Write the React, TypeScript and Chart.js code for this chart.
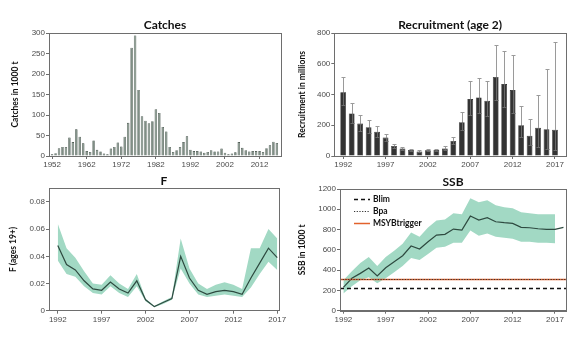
import React, { useEffect, useRef } from 'react';
import { Chart, registerables } from 'chart.js';

Chart.register(...registerables);

// ---------------- DATA ----------------
const CATCH_YEARS = [
  1952, 1953, 1954, 1955, 1956, 1957, 1958, 1959, 1960, 1961,
  1962, 1963, 1964, 1965, 1966, 1967, 1968, 1969, 1970, 1971,
  1972, 1973, 1974, 1975, 1976, 1977, 1978, 1979, 1980, 1981,
  1982, 1983, 1984, 1985, 1986, 1987, 1988, 1989, 1990, 1991,
  1992, 1993, 1994, 1995, 1996, 1997, 1998, 1999, 2000, 2001,
  2002, 2003, 2004, 2005, 2006, 2007, 2008, 2009, 2010, 2011,
  2012, 2013, 2014, 2015, 2016, 2017,
];
const CATCH_VALUES = [
  4, 7, 19, 22, 22, 45, 34, 65, 47, 31,
  12, 10, 38, 15, 11, 6, 4, 18, 22, 33,
  23, 47, 81, 264, 294, 161, 97, 86, 80, 85,
  114, 105, 71, 60, 22, 10, 14, 22, 34, 48,
  15, 12, 12, 11, 8, 10, 14, 11, 11, 18,
  8, 4, 6, 9, 34, 20, 14, 11, 12, 12,
  12, 10, 19, 26, 35, 32,
];
const CATCH_TICKS = [1952, 1962, 1972, 1982, 1992, 2002, 2012];

const REC_YEARS = [
  1992, 1993, 1994, 1995, 1996, 1997, 1998, 1999, 2000, 2001,
  2002, 2003, 2004, 2005, 2006, 2007, 2008, 2009, 2010, 2011,
  2012, 2013, 2014, 2015, 2016, 2017,
];
const REC_VALUES = [
  414, 277, 211, 187, 157, 120, 65, 48, 39, 30,
  37, 39, 48, 98, 220, 370, 381, 359, 514, 468,
  429, 200, 131, 183, 174, 170,
];
const REC_HIGH = [
  516, 342, 264, 237, 192, 146, 81, 59, 48, 37,
  44, 46, 63, 122, 283, 486, 505, 486, 723, 680,
  660, 325, 240, 397, 566, 741,
];
const REC_LOW = [
  330, 215, 165, 150, 125, 95, 52, 40, 32, 24,
  30, 32, 37, 78, 170, 266, 277, 261, 364, 316,
  281, 124, 70, 59, 48, 37,
];

const YEAR_TICKS = [1992, 1997, 2002, 2007, 2012, 2017];

const F_YEARS = REC_YEARS;
const F_VALUES = [
  0.048, 0.034, 0.030, 0.022, 0.016, 0.015, 0.021, 0.016, 0.013, 0.022,
  0.008, 0.003, 0.006, 0.009, 0.040, 0.024, 0.015, 0.012, 0.014, 0.015,
  0.014, 0.012, 0.024, 0.035, 0.046, 0.039,
];
const F_LOW = [
  0.037, 0.027, 0.025, 0.018, 0.013, 0.012, 0.018, 0.013, 0.010, 0.018,
  0.007, 0.0025, 0.005, 0.008, 0.031, 0.020, 0.012, 0.010, 0.011, 0.012,
  0.011, 0.010, 0.017, 0.027, 0.036, 0.030,
];
const F_HIGH = [
  0.064, 0.046, 0.039, 0.029, 0.020, 0.019, 0.026, 0.020, 0.016, 0.027,
  0.009, 0.0035, 0.007, 0.010, 0.053, 0.031, 0.020, 0.016, 0.019, 0.021,
  0.019, 0.016, 0.046, 0.046, 0.060, 0.053,
];

const SSB_YEARS = [
  1992, 1993, 1994, 1995, 1996, 1997, 1998, 1999, 2000, 2001,
  2002, 2003, 2004, 2005, 2006, 2007, 2008, 2009, 2010, 2011,
  2012, 2013, 2014, 2015, 2016, 2017, 2018,
];
const SSB_VALUES = [
  230, 319, 368, 420, 342, 424, 483, 542, 638, 608,
  680, 746, 753, 805, 795, 933, 894, 917, 877, 868,
  861, 822, 818, 808, 802, 802, 822,
];
const SSB_LOW = [
  170, 240, 300, 330, 270, 320, 380, 440, 520, 500,
  560, 620, 630, 670, 670, 790, 740, 760, 730, 720,
  710, 680, 680, 670, 670, 665, null,
];
const SSB_HIGH = [
  300, 390, 470, 530, 440, 530, 590, 660, 770, 730,
  820, 890, 900, 960, 950, 1110, 1070, 1090, 1040, 1020,
  1010, 970, 960, 950, 950, 950, null,
];
const BLIM = 225;
const BPA = 313;
const MSY_BTRIGGER = 313;

// ---------------- STYLE ----------------
const TICK_FONT = "'Liberation Sans', Arial, sans-serif";
const LABEL_FONT = "Lato, 'Open Sans', sans-serif";
const AXIS_COLOR = '#6e6e6e';
const BAND_COLOR = '#a2d9c4';
const LINE_COLOR = '#2e4a40';

const framePlugin = {
  id: 'frame',
  afterDraw(chart: any) {
    const { ctx, chartArea: a } = chart;
    ctx.save();
    ctx.strokeStyle = AXIS_COLOR;
    ctx.lineWidth = 1;
    ctx.strokeRect(Math.round(a.left) + 0.5, Math.round(a.top) + 0.5, Math.round(a.right - a.left), Math.round(a.bottom - a.top));
    ctx.restore();
  },
};

const panelTitlePlugin = {
  id: 'panelTitle',
  afterDraw(chart: any, _args: any, opts: any) {
    if (!opts || !opts.text) return;
    const { ctx, chartArea: a } = chart;
    ctx.save();
    ctx.font = `bold ${opts.size || 12}px ${LABEL_FONT}`;
    ctx.fillStyle = '#111';
    ctx.textAlign = 'center';
    ctx.textBaseline = 'alphabetic';
    ctx.fillText(opts.text, (a.left + a.right) / 2 + (opts.dx || 0), a.top - (opts.gap || 4));
    ctx.restore();
  },
};

const errorBarPlugin = {
  id: 'errorBars',
  afterDatasetsDraw(chart: any, _args: any, opts: any) {
    if (!opts || !opts.high) return;
    const { ctx, scales } = chart;
    ctx.save();
    ctx.lineWidth = 1;
    opts.years.forEach((yr: number, i: number) => {
      const x = Math.round(scales.x.getPixelForValue(yr)) + 0.5;
      const yh = Math.round(scales.y.getPixelForValue(opts.high[i])) + 0.5;
      const yl = Math.round(scales.y.getPixelForValue(opts.low[i])) + 0.5;
      const yv = scales.y.getPixelForValue(opts.values[i]);
      ctx.strokeStyle = '#9a9a9a';
      ctx.beginPath();
      ctx.moveTo(x, yh);
      ctx.lineTo(x, yv);
      ctx.moveTo(x - 2, yh);
      ctx.lineTo(x + 2, yh);
      ctx.stroke();
      ctx.strokeStyle = '#6a6a6a';
      ctx.beginPath();
      ctx.moveTo(x, yv);
      ctx.lineTo(x, yl);
      ctx.moveTo(x - 2, yl);
      ctx.lineTo(x + 2, yl);
      ctx.stroke();
    });
    ctx.restore();
  },
};

const REF_LINES = [
  { label: 'Blim', value: BLIM, color: '#111', dash: [4, 3], width: 1.5 },
  { label: 'MSYBtrigger', value: MSY_BTRIGGER, color: '#e2622c', dash: [], width: 1.5 },
  { label: 'Bpa', value: BPA, color: '#333', dash: [1.2, 1.5], width: 1.2 },
];
const LEGEND_ORDER = ['Blim', 'Bpa', 'MSYBtrigger'];

const refLinePlugin = {
  id: 'refLines',
  afterDatasetsDraw(chart: any, _args: any, opts: any) {
    if (!opts || !opts.enabled) return;
    const { ctx, scales, chartArea: a } = chart;
    ctx.save();
    REF_LINES.forEach((r) => {
      const y = Math.round(scales.y.getPixelForValue(r.value)) + 0.5;
      ctx.strokeStyle = r.color;
      ctx.lineWidth = r.width;
      ctx.setLineDash(r.dash);
      ctx.beginPath();
      ctx.moveTo(a.left, y);
      ctx.lineTo(a.right, y);
      ctx.stroke();
    });
    // legend
    ctx.font = `bold 8.5px ${LABEL_FONT}`;
    ctx.textBaseline = 'middle';
    ctx.textAlign = 'left';
    LEGEND_ORDER.forEach((name, i) => {
      const r = REF_LINES.find((q) => q.label === name)!;
      const y = Math.round(a.top + 9.5 + i * 12.3) + 0.5;
      ctx.strokeStyle = r.color;
      ctx.lineWidth = r.width;
      ctx.setLineDash(r.dash);
      ctx.beginPath();
      ctx.moveTo(a.left + 14, y);
      ctx.lineTo(a.left + 30, y);
      ctx.stroke();
      ctx.setLineDash([]);
      ctx.fillStyle = '#111';
      ctx.fillText(name, a.left + 33, y);
    });
    ctx.restore();
  },
};

function axisBase() {
  return {
    grid: { display: true, drawOnChartArea: false, drawTicks: true, tickLength: 3, color: AXIS_COLOR, lineWidth: 1, offset: false },
    border: { display: true, color: AXIS_COLOR, width: 1 },
  };
}

function xAxis(min: number, max: number, ticks: number[], height: number) {
  return {
    type: 'linear',
    min,
    max,
    offset: false,
    ...axisBase(),
    afterBuildTicks: (s: any) => { s.ticks = ticks.map((v) => ({ value: v })); },
    afterFit: (s: any) => { s.height = height; },
    ticks: {
      color: '#4a4a4a',
      font: { family: TICK_FONT, size: 8 },
      padding: 1,
      maxRotation: 0,
      autoSkip: false,
      callback: (v: any) => String(v),
    },
  };
}

function yAxis(min: number, max: number, step: number, width: number, title: string, titlePad: number, dropMax = false) {
  return {
    type: 'linear',
    min,
    max,
    ...axisBase(),
    afterFit: (s: any) => { s.width = width; },
    afterBuildTicks: (s: any) => {
      if (dropMax) s.ticks = s.ticks.filter((t: any) => Math.abs(t.value - max) > 1e-9);
    },
    ticks: {
      stepSize: step,
      color: '#4a4a4a',
      font: { family: TICK_FONT, size: 8 },
      padding: 1,
      autoSkip: false,
      callback: (v: any) => String(Math.round(v * 1000) / 1000),
    },
    title: {
      display: true,
      text: title,
      color: '#111',
      font: { family: LABEL_FONT, size: 8.5, weight: 'bold' },
      padding: { top: titlePad, bottom: 0 },
    },
  };
}

function basePlugins(title: string, gap: number) {
  return {
    legend: { display: false },
    tooltip: { enabled: false },
    title: { display: false },
    panelTitle: { text: title, size: 12, gap },
  };
}

function buildCatches(): any {
  return {
    type: 'bar',
    data: {
      datasets: [{
        data: CATCH_YEARS.map((x, i) => ({ x, y: CATCH_VALUES[i] })),
        backgroundColor: '#7f8f85',
        borderColor: '#2f3d35',
        borderWidth: 0.6,
        barPercentage: 0.72,
        categoryPercentage: 1,
      }],
    },
    options: {
      animation: false,
      responsive: false,
      layout: { padding: { left: 0, top: 33, right: 9, bottom: 0 } },
      scales: {
        x: xAxis(1951.1, 2018.2, CATCH_TICKS, 14),
        y: yAxis(0, 300, 50, 49, 'Catches in 1000 t', 10.5),
      },
      plugins: basePlugins('Catches', 4.5),
    },
    plugins: [framePlugin, panelTitlePlugin],
  };
}

function buildRecruitment(): any {
  return {
    type: 'bar',
    data: {
      datasets: [{
        data: REC_YEARS.map((x, i) => ({ x, y: REC_VALUES[i] })),
        backgroundColor: '#333333',
        borderColor: '#151515',
        borderWidth: 0.6,
        barPercentage: 0.68,
        categoryPercentage: 1,
      }],
    },
    options: {
      animation: false,
      responsive: false,
      layout: { padding: { left: 0, top: 33, right: 15, bottom: 0 } },
      scales: {
        x: xAxis(1990.95, 2018.3, YEAR_TICKS, 14),
        y: yAxis(0, 800, 200, 44.3, 'Recruitment in millions', 6.8),
      },
      plugins: {
        ...basePlugins('Recruitment (age 2)', 4.5),
        errorBars: { years: REC_YEARS, values: REC_VALUES, high: REC_HIGH, low: REC_LOW },
      },
    },
    plugins: [framePlugin, panelTitlePlugin, errorBarPlugin],
  };
}

function bandDatasets(years: number[], low: (number | null)[], high: (number | null)[], values: number[], valueYears: number[]) {
  return [
    {
      data: years.map((x, i) => ({ x, y: low[i] })).filter((p) => p.y !== null),
      borderWidth: 0,
      pointRadius: 0,
      fill: false,
      order: 2,
    },
    {
      data: years.map((x, i) => ({ x, y: high[i] })).filter((p) => p.y !== null),
      borderWidth: 0,
      pointRadius: 0,
      fill: '-1',
      backgroundColor: BAND_COLOR,
      order: 1,
    },
    {
      data: valueYears.map((x, i) => ({ x, y: values[i] })),
      borderColor: LINE_COLOR,
      borderWidth: 1.2,
      pointRadius: 0,
      fill: false,
      tension: 0,
      order: 0,
    },
  ];
}

function buildF(): any {
  return {
    type: 'line',
    data: { datasets: bandDatasets(F_YEARS, F_LOW, F_HIGH, F_VALUES, F_YEARS) },
    options: {
      animation: false,
      responsive: false,
      layout: { padding: { left: 0, top: 18.3, right: 11, bottom: 0 } },
      scales: {
        x: xAxis(1991, 2017.2, YEAR_TICKS, 28.3),
        y: yAxis(0, 0.09, 0.02, 49, 'F (ages 19+)', 8.2, true),
      },
      plugins: basePlugins('F', 3.5),
    },
    plugins: [framePlugin, panelTitlePlugin],
  };
}

function buildSSB(): any {
  return {
    type: 'line',
    data: { datasets: bandDatasets(SSB_YEARS, SSB_LOW, SSB_HIGH, SSB_VALUES, SSB_YEARS) },
    options: {
      animation: false,
      responsive: false,
      layout: { padding: { left: 0, top: 19, right: 15, bottom: 0 } },
      scales: {
        x: xAxis(1991.6, 2018.3, YEAR_TICKS, 28.3),
        y: yAxis(0, 1200, 200, 50, 'SSB in 1000 t', 7.2),
      },
      plugins: {
        ...basePlugins('SSB', 3.5),
        refLines: { enabled: true },
      },
    },
    plugins: [framePlugin, panelTitlePlugin, refLinePlugin],
  };
}

function Panel(props: { left: number; top: number; width: number; height: number; build: () => any }) {
  const ref = useRef<HTMLCanvasElement | null>(null);
  useEffect(() => {
    if (!ref.current) return;
    const chart = new Chart(ref.current, props.build());
    return () => chart.destroy();
  }, []);
  return (
    <canvas
      ref={ref}
      width={props.width}
      height={props.height}
      style={{ position: 'absolute', left: props.left, top: props.top, width: props.width, height: props.height }}
    />
  );
}

export default function App() {
  return (
    <div style={{ position: 'fixed', left: 0, top: 0, width: 581, height: 339, background: '#fff', overflow: 'hidden' }}>
      <Panel left={0} top={0} width={290} height={170} build={buildCatches} />
      <Panel left={290} top={0} width={291} height={170} build={buildRecruitment} />
      <Panel left={0} top={170} width={290} height={169} build={buildF} />
      <Panel left={290} top={170} width={291} height={169} build={buildSSB} />
    </div>
  );
}
